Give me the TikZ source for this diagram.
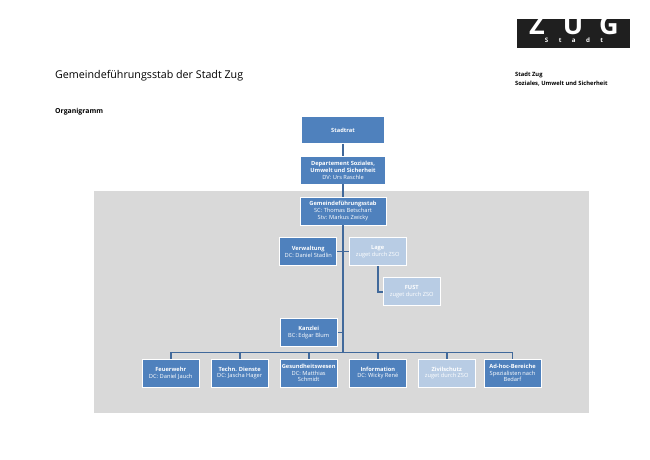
\documentclass[tikz,border=0pt]{standalone}
\usepackage{fontspec}
\setmainfont{Open Sans}
\definecolor{boxblue}{HTML}{4F81BD}
\definecolor{boxlight}{HTML}{B8CCE4}
\definecolor{linkblue}{HTML}{41699B}
\definecolor{stabgray}{HTML}{D9D9D9}
\begin{document}
\begin{tikzpicture}[x=1pt,y=-1pt]
\tikzstyle{unit}=[rectangle, fill=boxblue, text=white, align=center, inner sep=0pt, minimum width=57pt, minimum height=28pt, font=\fontsize{5.7}{6.8}\selectfont]
\tikzstyle{wunit}=[unit, draw=white, line width=0.9pt]
\tikzstyle{lunit}=[wunit, fill=boxlight]
\tikzstyle{link}=[draw=linkblue, line width=1.6pt]
\tikzstyle{head}=[anchor=west, inner sep=0pt]
\tikzstyle{logotext}=[anchor=south, text=white, inner sep=0pt, text depth=0pt]
\useasboundingbox (0,0) rectangle (650,460);

\fill [stabgray] (94,190.7) rectangle (589,413);

% header
\node [head, font=\fontsize{10.7}{12}\selectfont] (titel) at (55,76) {Gemeindeführungsstab der Stadt Zug};
\node [head, font=\fontsize{6.9}{8}\bfseries] (orga) at (55,111.5) {Organigramm};
\node [head, font=\fontsize{5.8}{7}\bfseries] (stadt) at (515,74.5) {Stadt Zug};
\node [head, font=\fontsize{5.8}{7}\bfseries] (dept) at (515,84) {Soziales, Umwelt und Sicherheit};

% logo
\begin{scope}
\clip (516.7,19.5) rectangle (630.3,48.3);
\fill [black!88] (516.7,19.5) rectangle (630.3,48.3);
\node [logotext, text height=14pt, font=\fontsize{27}{27}\bfseries] (logozug) at (574,34.3) {Z\hspace{18pt}U\hspace{16pt}G};
\node [logotext, text height=4.6pt, font=\fontsize{6.2}{7}\bfseries] (logostadt) at (574,42.3) {S\hspace{10.4pt}t\hspace{10.4pt}a\hspace{10.4pt}d\hspace{10.4pt}t};
\end{scope}

% boxes
\node [unit, minimum width=82pt, minimum height=26.6pt] (stadtrat) at (343,130) {\textbf{Stadtrat}};
\node [unit, minimum width=83.7pt, minimum height=27.3pt] (soziales) at (343,170.3) {\textbf{Departement Soziales,}\\\textbf{Umwelt und Sicherheit}\\DV: Urs Raschle};
\node [wunit, minimum width=86pt] (gstab) at (343,211) {\textbf{Gemeindeführungsstab}\\SC: Thomas Betschart\\Stv: Markus Zwicky};
\node [wunit] (verwaltung) at (308.3,251.5) {\textbf{Verwaltung}\\DC: Daniel Stadlin};
\node [lunit] (lage) at (377.7,251.5) {\textbf{Lage}\\zuget durch ZSO};
\node [lunit] (fust) at (411.8,291.7) {\textbf{FUST}\\zuget durch ZSO};
\node [wunit] (kanzlei) at (308.7,332.3) {\textbf{Kanzlei}\\BC: Edgar Blum};

\node [wunit] (feuerwehr) at (170.7,373) {\textbf{Feuerwehr}\\DC: Daniel Jauch};
\node [wunit] (technik) at (239.7,373) {\textbf{Techn. Dienste}\\DC: Jascha Hager};
\node [wunit] (gesundheit) at (308.7,373) {\textbf{Gesundheitswesen}\\DC: Matthias\\Schmidt};
\node [wunit] (information) at (377.8,373) {\textbf{Information}\\DC: Wicky René};
\node [lunit] (zivilschutz) at (446.7,373) {\textbf{Zivilschutz}\\zuget durch ZSO};
\node [wunit] (adhoc) at (512.5,373) {\textbf{Ad-hoc-Bereiche}\\Spezialisten nach\\Bedarf};

% links
\coordinate (bus) at (343,352.3);
\draw [link] (stadtrat) -- (soziales);
\draw [link] (soziales) -- (gstab);
\draw [link] (gstab) -- (bus);
\draw [link] (verwaltung) -- (lage);
\draw [link] (lage.south) |- (fust.west);
\draw [link] (kanzlei.east) -- (kanzlei.east -| bus);
\draw [link] (feuerwehr.north |- bus) -- (adhoc.north |- bus);
\foreach \n in {feuerwehr,technik,gesundheit,information,zivilschutz,adhoc} {
\draw [link] (\n.north |- bus) -- (\n.north);
}

\end{tikzpicture}
\end{document}
